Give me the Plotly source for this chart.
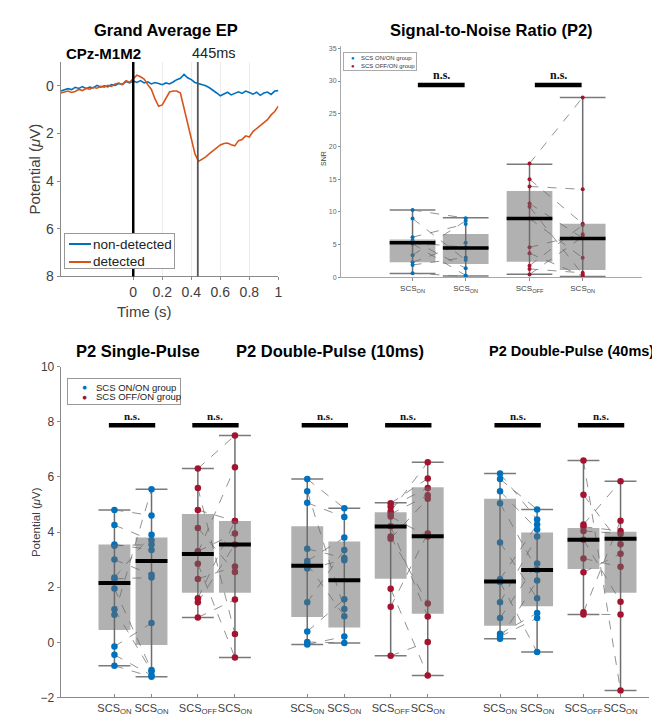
import plotly.graph_objects as go

# ---------------- data ----------------
ep_time = [-0.5, -0.475, -0.45, -0.425, -0.4, -0.375, -0.35, -0.325, -0.3, -0.275,
           -0.25, -0.225, -0.2, -0.175, -0.15, -0.125, -0.1, -0.075, -0.05, -0.025,
           0.0, 0.025, 0.05, 0.075, 0.1, 0.125, 0.15, 0.175, 0.2, 0.225,
           0.25, 0.275, 0.3, 0.325, 0.35, 0.375, 0.4, 0.425, 0.45, 0.475,
           0.5, 0.525, 0.55, 0.575, 0.6, 0.625, 0.65, 0.675, 0.7, 0.725,
           0.75, 0.775, 0.8, 0.825, 0.85, 0.875, 0.9, 0.925, 0.95, 0.975, 1.0]
ep_nondetected = [0.22, 0.18, 0.12, 0.16, 0.06, 0.11, 0.03, 0.12, 0.05, 0.09,
                  -0.02, 0.05, 0.00, 0.04, -0.05, -0.02, -0.10, -0.05, -0.18, -0.12,
                  -0.20, -0.14, -0.22, -0.12, -0.17, -0.08, -0.14, -0.10, -0.05, -0.12,
                  -0.08, -0.16, -0.26, -0.32, -0.48, -0.34, -0.26, -0.14, -0.10, -0.04,
                  0.00, 0.08, 0.18, 0.30, 0.42, 0.33, 0.27, 0.38, 0.30, 0.25,
                  0.32, 0.22, 0.28, 0.35, 0.27, 0.40, 0.30, 0.26, 0.36, 0.22, 0.20]
ep_detected = [0.30, 0.26, 0.22, 0.28, 0.24, 0.15, 0.20, 0.10, 0.14, 0.06,
               0.10, 0.02, 0.06, -0.02, 0.02, -0.08, -0.12, -0.06, -0.22, -0.15,
               -0.28, -0.45, -0.38, -0.28, -0.05, 0.15, 0.55, 0.86, 0.80, 0.50,
               0.26, 0.22, 0.22, 0.30, 0.95, 1.60, 2.25, 2.85, 3.17, 3.08,
               2.98, 2.85, 2.72, 2.60, 2.48, 2.42, 2.40, 2.47, 2.52, 2.30,
               2.25, 2.10, 2.15, 1.92, 1.80, 1.66, 1.55, 1.42, 1.22, 1.08, 0.85]
ep_events = [0.0, 0.445]
ep_xticks = [0, 0.2, 0.4, 0.6, 0.8, 1]
ep_yticks = [0, 2, 4, 6, 8]
ep_series_names = ["non-detected", "detected"]
group_names = ["SCS ON/ON group", "SCS OFF/ON group"]

# SNR panel
snr_pos = [1, 2, 3.2, 4.2]
snr_onon_a = [10.3, 9.0, 6.15, 5.65, 5.3, 5.15, 3.4, 2.3, 1.9, 0.65]
snr_onon_b = [9.05, 2.65, 8.15, 1.4, 4.6, 0.3, 8.65, 5.3, 3.05, 0.15]
snr_offon_a = [17.4, 15.0, 13.9, 11.3, 10.8, 9.0, 4.6, 3.7, 1.8, 1.3, 0.45]
snr_offon_b = [27.5, 8.2, 13.45, 6.0, 0.45, 3.0, 6.6, 0.2, 8.0, 0.7, 6.2]
# box stats: q1, median, q3, low whisker, high whisker
snr_stats = [[2.3, 5.3, 5.8, 0.6, 10.3],
             [2.05, 4.5, 6.65, 0.2, 9.1],
             [2.4, 9.0, 13.2, 0.5, 17.3],
             [1.15, 5.95, 8.2, 0.15, 27.5]]
snr_ns_y = 29.4
snr_yticks = [0, 5, 10, 15, 20, 25, 30, 35]

# bottom panel (P2 potentials)
p2_pos = [1, 2, 3.25, 4.25, 6.2, 7.2, 8.45, 9.45, 11.4, 12.4, 13.65, 14.65]
single_onon_a = [4.8, 4.25, 3.55, 3.5, 3.0, 2.35, 2.3, 1.95, 1.2, 1.0, -0.15, -0.45, -0.85]
single_onon_b = [4.6, 3.7, 3.35, 3.55, 2.45, 3.9, 2.35, -1.0, -1.05, 5.55, 0.7, -1.2, -1.25]
single_offon_a = [6.3, 5.6, 4.8, 4.15, 3.3, 3.25, 2.85, 2.3, 1.6, 1.45, 0.9]
single_offon_b = [7.5, 0.3, 4.4, 2.55, 3.95, 6.35, -0.55, 2.75, 4.4, 3.55, 1.55]
d10_onon_a = [5.92, 5.48, 5.06, 3.39, 2.95, 2.84, 2.68, 1.45, 0.39, 0.01, -0.08]
d10_onon_b = [4.86, 1.21, 4.54, 3.06, 3.8, 0.95, 2.98, 3.35, 1.56, -0.02, 0.21]
d10_offon_a = [5.04, 4.92, 4.74, 4.65, 4.56, 4.21, 3.84, 3.76, 1.94, 1.29, -0.49]
d10_offon_b = [5.94, 5.6, 6.53, 5.33, 3.84, 0.94, 1.41, 5.21, -1.2, 3.95, 0.01]
d40_onon_a = [6.12, 5.92, 5.48, 5.04, 3.62, 2.29, 2.19, 1.45, 0.88, 0.31, 0.21, 0.13]
d40_onon_b = [4.45, 4.82, 4.09, 2.62, 1.6, 4.27, -0.35, 3.84, 2.86, 1.06, 0.88, 2.24]
d40_offon_a = [6.59, 5.35, 4.27, 4.19, 4.04, 3.72, 3.04, 2.54, 1.09, 1.01]
d40_offon_b = [-1.75, 3.56, 5.84, 4.04, 3.94, 1.47, 2.74, 3.21, 4.41, 1.01]
p2_stats = [[0.45, 2.15, 3.55, -0.85, 4.8],
            [-0.1, 2.95, 3.8, -1.25, 5.55],
            [1.8, 3.2, 4.65, 0.9, 6.3],
            [1.8, 3.55, 4.4, -0.55, 7.5],
            [0.92, 2.78, 4.21, -0.08, 5.92],
            [0.54, 2.25, 3.66, -0.02, 4.86],
            [2.31, 4.2, 4.72, -0.49, 5.06],
            [1.04, 3.85, 5.62, -1.2, 6.53],
            [0.6, 2.21, 5.21, 0.13, 6.12],
            [1.31, 2.62, 3.98, -0.35, 4.82],
            [2.66, 3.72, 4.15, 1.01, 6.59],
            [1.8, 3.76, 4.01, -1.75, 5.84]]
p2_ns_y = 7.87
p2_yticks = [-2, 0, 2, 4, 6, 8, 10]

cond_on = "SCS<sub>ON</sub>"
cond_off = "SCS<sub>OFF</sub>"
snr_ticktext = [cond_on, cond_on, cond_off, cond_on]
p2_ticktext = [cond_on, cond_on, cond_off, cond_on] * 3

BLUE = "#0072BD"
RED = "#A2142F"
ORANGE = "#D95319"
FONT = "Liberation Sans, Arial, sans-serif"
TXT = "#404040"
AX = "#8a8a8a"

fig = go.Figure()

# ---------------- EP panel ----------------
fig.add_trace(go.Scatter(x=ep_time, y=ep_nondetected, mode="lines", name=ep_series_names[0],
                         line=dict(color=BLUE, width=1.6), xaxis="x", yaxis="y", showlegend=False))
fig.add_trace(go.Scatter(x=ep_time, y=ep_detected, mode="lines", name=ep_series_names[1],
                         line=dict(color=ORANGE, width=1.6), xaxis="x", yaxis="y", showlegend=False))
for ev, col, w in zip(ep_events, ["#000000", "#555555"], [2.5, 1.8]):
    fig.add_shape(type="line", x0=ev, x1=ev, y0=0, y1=1, xref="x", yref="y domain",
                  line=dict(color=col, width=w))


# ---------------- paired box helper ----------------
def add_pair(xa, ya, pa, pb, va, vb, sa, sb, color, hw, msize, lw_med):
    lx, ly = [], []
    for a, b in zip(va, vb):
        lx += [pa, pb, None]
        ly += [a, b, None]
    fig.add_trace(go.Scatter(x=lx, y=ly, mode="lines", showlegend=False, hoverinfo="skip",
                             line=dict(color="rgba(110,110,110,0.75)", width=1, dash="dash"),
                             xaxis=xa, yaxis=ya))
    for p, s, vals in ((pa, sa, va), (pb, sb, vb)):
        q1, med, q3, lo, hi = s
        fig.add_trace(go.Scatter(x=[p, p], y=[lo, hi], mode="lines", showlegend=False,
                                 line=dict(color="#6e6e6e", width=1.5), xaxis=xa, yaxis=ya,
                                 hoverinfo="skip"))
        fig.add_trace(go.Scatter(x=[p - hw, p + hw, None, p - hw, p + hw],
                                 y=[lo, lo, None, hi, hi], mode="lines", showlegend=False,
                                 line=dict(color="#7a7a7a", width=1.5), xaxis=xa, yaxis=ya,
                                 hoverinfo="skip"))
        fig.add_trace(go.Scatter(x=[p] * len(vals), y=vals, mode="markers", showlegend=False,
                                 marker=dict(color=color, size=msize), xaxis=xa, yaxis=ya))
        fig.add_trace(go.Scatter(x=[p - hw, p + hw, p + hw, p - hw, p - hw],
                                 y=[q1, q1, q3, q3, q1], mode="lines", fill="toself",
                                 fillcolor="rgba(105,105,105,0.52)", line=dict(width=0),
                                 showlegend=False, xaxis=xa, yaxis=ya, hoverinfo="skip"))
        fig.add_trace(go.Scatter(x=[p - hw, p + hw], y=[med, med], mode="lines",
                                 showlegend=False, line=dict(color="#000000", width=lw_med),
                                 xaxis=xa, yaxis=ya, hoverinfo="skip"))


def add_ns(xa, ya, pa, pb, ybar, ytxt, fsize, x0off, x1off):
    fig.add_trace(go.Scatter(x=[pa + x0off, pb + x1off], y=[ybar, ybar], mode="lines",
                             showlegend=False, line=dict(color="#000000", width=4.5),
                             xaxis=xa, yaxis=ya, hoverinfo="skip"))
    fig.add_annotation(x=(pa + pb) / 2 + (x0off + x1off) / 2, y=ytxt, xref=xa, yref=ya,
                       text="<b>n.s.</b>", showarrow=False, yanchor="middle",
                       font=dict(family="Liberation Serif, DejaVu Serif, serif", size=fsize,
                                 color="#111111"))


# ---------------- SNR panel ----------------
add_pair("x2", "y2", snr_pos[0], snr_pos[1], snr_onon_a, snr_onon_b,
         snr_stats[0], snr_stats[1], BLUE, 0.43, 4, 3.5)
add_pair("x2", "y2", snr_pos[2], snr_pos[3], snr_offon_a, snr_offon_b,
         snr_stats[2], snr_stats[3], RED, 0.43, 4, 3.5)
add_ns("x2", "y2", snr_pos[0], snr_pos[1], snr_ns_y, 30.9, 12, 0.1, -0.02)
add_ns("x2", "y2", snr_pos[2], snr_pos[3], snr_ns_y, 30.9, 12, 0.1, -0.02)

# ---------------- bottom panel ----------------
groups = [(single_onon_a, single_onon_b, BLUE), (single_offon_a, single_offon_b, RED),
          (d10_onon_a, d10_onon_b, BLUE), (d10_offon_a, d10_offon_b, RED),
          (d40_onon_a, d40_onon_b, BLUE), (d40_offon_a, d40_offon_b, RED)]
for g, (va, vb, col) in enumerate(groups):
    pa, pb = p2_pos[2 * g], p2_pos[2 * g + 1]
    add_pair("x3", "y3", pa, pb, va, vb, p2_stats[2 * g], p2_stats[2 * g + 1],
             col, 0.43, 6.5, 4)
    add_ns("x3", "y3", pa, pb, p2_ns_y, 8.19, 11, -0.15, 0.1)


# ---------------- annotations (titles, labels) ----------------
def ann(text, x, y, size, bold=False, color="#000000", angle=0, family=FONT, xanchor="center"):
    fig.add_annotation(x=x / 660, y=1 - y / 721, xref="paper", yref="paper",
                       text=f"<b>{text}</b>" if bold else text, showarrow=False,
                       xanchor=xanchor, yanchor="middle", textangle=angle,
                       font=dict(family=family, size=size, color=color))


def panel_box(x0, y0, x1, y1, bg="white", border="#8a8a8a", bw=1):
    # empty annotation used as a legend frame (drawn above plot lines)
    fig.add_annotation(x=(x0 + x1) / 2 / 660, y=1 - (y0 + y1) / 2 / 721, xref="paper",
                       yref="paper", text=" ", showarrow=False, xanchor="center",
                       yanchor="middle", width=max(x1 - x0 - 2 * bw, 1),
                       height=max(y1 - y0 - 2 * bw, 1), bgcolor=bg, bordercolor=border,
                       borderwidth=bw, borderpad=0, font=dict(size=1))


ann("Grand Average EP", 159, 15, 16.5, bold=True)
ann("Signal-to-Noise Ratio (P2)", 486, 15, 16.5, bold=True)
ann("CPz-M1M2", 96, 39, 15, bold=True)
ann("445ms", 207, 39, 14.5, color="#222222")
ann("Time (s)", 137, 303, 15, color=TXT)
ann("Potential (<i>\u03bc</i>V)", 27, 157, 15, color=TXT, angle=-90)
ann("SNR", 318, 147, 7, color=TXT, angle=-90)
ann("P2 Single-Pulse", 131, 343, 16.5, bold=True)
ann("P2 Double-Pulse (10ms)", 324, 343, 16.5, bold=True)
ann("P2 Double-Pulse (40ms)", 567, 343, 14.5, bold=True)
ann("Potential (<i>\u03bc</i>V)", 28, 518, 11.5, color=TXT, angle=-90)

# manual legends
panel_box(57, 223, 168, 259, border="#999999")
for i, (nm, col) in enumerate(zip(ep_series_names, [BLUE, ORANGE])):
    yy = 234 + 18 * i
    panel_box(61, yy - 1, 83, yy + 1, bg=col, border=col, bw=0)
    ann(nm, 84, yy, 13.5, color="#222222", xanchor="left")
panel_box(337, 38, 411, 57, border="#aaaaaa")
for i, (nm, col) in enumerate(zip(group_names, [BLUE, RED])):
    yy = 44 + 8 * i
    ann(f'<span style="color:{col}">\u25cf</span>', 347, yy, 6, xanchor="center")
    ann(nm, 353, yy, 6, color="#333333", xanchor="left")
panel_box(60, 371, 174, 398, border="#999999")
for i, (nm, col) in enumerate(zip(group_names, [BLUE, RED])):
    yy = 380 + 10 * i
    ann(f'<span style="color:{col}">\u25cf</span>', 77, yy, 8.5, xanchor="center")
    ann(nm, 87, yy, 9.5, color="#222222", xanchor="left")

axis_common = dict(showline=True, linecolor=AX, linewidth=1, zeroline=False, mirror=False,
                   ticks="outside", tickcolor=AX, ticklen=3, tickangle=0)

fig.update_layout(
    width=660, height=721, margin=dict(l=0, r=0, t=0, b=0),
    paper_bgcolor="white", plot_bgcolor="white", showlegend=False,
    font=dict(family=FONT, color=TXT),
    xaxis=dict(domain=[53 / 660, 272 / 660], range=[-0.5, 1.0], anchor="y",
               tickvals=ep_xticks, ticktext=[str(v) for v in ep_xticks],
               showgrid=True, gridcolor="#ececec",
               tickfont=dict(family=FONT, color=TXT, size=14), **axis_common),
    yaxis=dict(domain=[1 - 267 / 721, 1 - 48 / 721], range=[8, -1], anchor="x",
               tickvals=ep_yticks, showgrid=False,
               tickfont=dict(family=FONT, color=TXT, size=14), **axis_common),
    xaxis2=dict(domain=[335 / 660, 638 / 660], range=[-0.346, 5.318], anchor="y2",
                tickvals=snr_pos, ticktext=snr_ticktext, showgrid=False,
                tickfont=dict(family=FONT, color=TXT, size=8),
                **{**axis_common, "linecolor": "#a8a8a8"}),
    yaxis2=dict(domain=[1 - 268 / 721, 1 - 32 / 721], range=[0, 35.3], anchor="x2",
                tickvals=snr_yticks, showgrid=False,
                tickfont=dict(family=FONT, color="#666666", size=7),
                **{**axis_common, "linecolor": "#a8a8a8", "ticklen": 2}),
    xaxis3=dict(domain=[53 / 660, 645 / 660], range=[-0.45, 15.42], anchor="y3",
                tickvals=p2_pos, ticktext=p2_ticktext, showgrid=False,
                tickfont=dict(family=FONT, color=TXT, size=11),
                **{**axis_common, "ticks": "inside"}),
    yaxis3=dict(domain=[1 - 697 / 721, 1 - 359 / 721], range=[-2, 10], anchor="x3",
                tickvals=p2_yticks, showgrid=False,
                tickfont=dict(family=FONT, color=TXT, size=12), **axis_common),
)

fig.write_html("out.html")
